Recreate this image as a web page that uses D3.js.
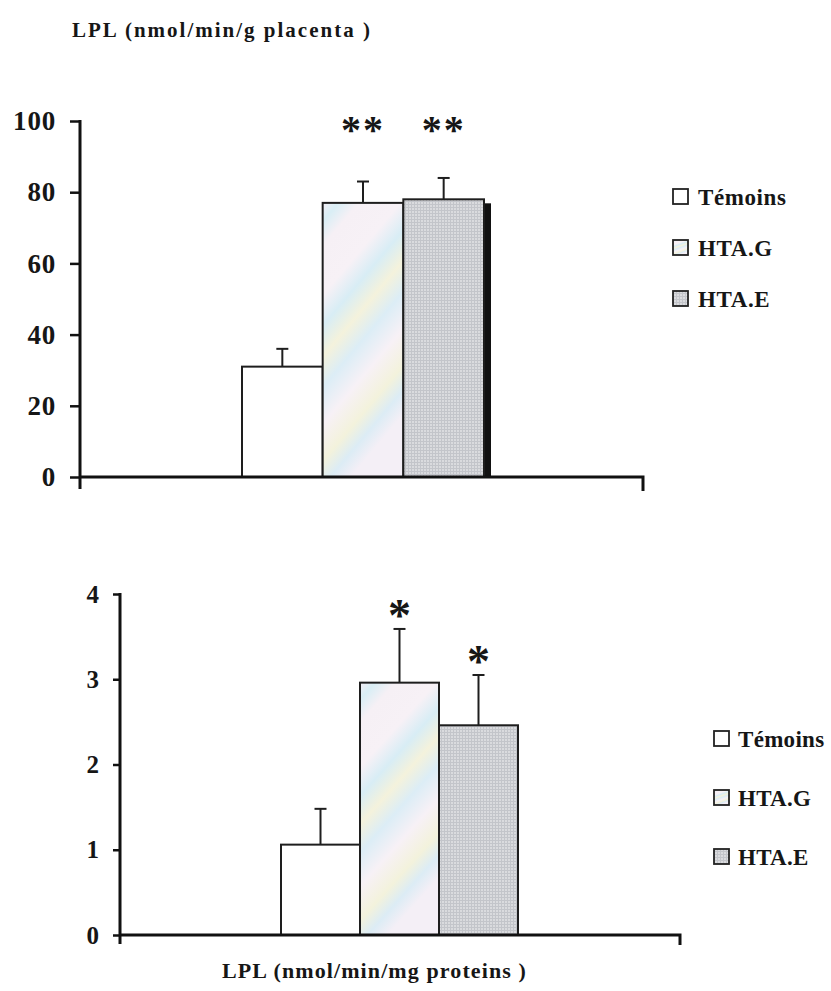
<!DOCTYPE html>
<html>
<head>
<meta charset="utf-8">
<script src="https://cdn.jsdelivr.net/npm/d3@7/dist/d3.min.js"></script>
<style>
  html, body { margin: 0; padding: 0; background: #fff; }
  svg { display: block; }
  text { font-family: "Liberation Serif", "Times New Roman", serif; font-weight: bold; fill: #161616; }
</style>
</head>
<body>
<svg id="chart" width="831" height="991"></svg>
<script>
// Groups and LPL activity (mean and SEM) per panel
const groups = ["Témoins", "HTA.G", "HTA.E"];
const perGram = [31, 77, 78];          // nmol/min/g placenta
const perGramErr = [5, 6, 6];
const perGramStars = ["", "**", "**"];
const perProtein = [1.06, 2.96, 2.46]; // nmol/min/mg proteins
const perProteinErr = [0.42, 0.63, 0.59];
const perProteinStars = ["", "*", "*"];
const topTicks = [0, 20, 40, 60, 80, 100];
const bottomTicks = [0, 1, 2, 3, 4];

const svg = d3.select("#chart");
const defs = svg.append("defs");

// Pale iridescent fill for HTA.G
const iri = defs.append("linearGradient").attr("id", "iri")
  .attr("x1", "0").attr("y1", "0").attr("x2", "0.35").attr("y2", "1");
[["0", "#f3eef5"], ["0.06", "#d9eef5"], ["0.14", "#f6f0f5"], ["0.3", "#f7f1f6"],
 ["0.4", "#d8edf5"], ["0.5", "#f4f2dc"], ["0.6", "#dcedf6"], ["0.72", "#f7f1f6"],
 ["0.84", "#f3f2dc"], ["0.92", "#dcecf5"], ["1", "#f4eff6"]].forEach(([o, c]) =>
  iri.append("stop").attr("offset", o).attr("stop-color", c));

// Fine grey grid fill for HTA.E
const grid = defs.append("pattern").attr("id", "grid")
  .attr("patternUnits", "userSpaceOnUse").attr("width", 3).attr("height", 3);
grid.append("rect").attr("width", 3).attr("height", 3).attr("fill", "#dadbde");
grid.append("path").attr("d", "M0,0.5H3M0.5,0V3").attr("stroke", "#c3c5ca").attr("stroke-width", 1);

const fills = ["#ffffff", "url(#iri)", "url(#grid)"];

function panel(cfg) {
  const g = svg.append("g");
  const y = d3.scaleLinear().domain([0, cfg.max]).range([cfg.y0, cfg.y1]);
  const x = d3.scaleBand().domain(groups).range(cfg.barRange).padding(0);

  // Bars
  if (cfg.shadow) {
    const last = groups[groups.length - 1];
    g.append("rect")
      .attr("x", x(last) + x.bandwidth())
      .attr("y", y(cfg.values[2]) + 4)
      .attr("width", 7)
      .attr("height", y(0) - y(cfg.values[2]) - 4)
      .attr("fill", "#111");
  }
  g.selectAll("rect.bar").data(groups).join("rect")
    .attr("class", "bar")
    .attr("x", d => x(d))
    .attr("y", (d, i) => y(cfg.values[i]))
    .attr("width", x.bandwidth())
    .attr("height", (d, i) => y(0) - y(cfg.values[i]))
    .attr("fill", (d, i) => fills[i])
    .attr("stroke", "#1e1e1e").attr("stroke-width", 2);

  // Error bars (upper only)
  const eb = g.selectAll("g.err").data(groups).join("g").attr("class", "err");
  eb.append("line")
    .attr("x1", d => x(d) + x.bandwidth() / 2).attr("x2", d => x(d) + x.bandwidth() / 2)
    .attr("y1", (d, i) => y(cfg.values[i]))
    .attr("y2", (d, i) => y(cfg.values[i] + cfg.errs[i]))
    .attr("stroke", "#1e1e1e").attr("stroke-width", 2);
  eb.append("line")
    .attr("x1", d => x(d) + x.bandwidth() / 2 - 6).attr("x2", d => x(d) + x.bandwidth() / 2 + 6)
    .attr("y1", (d, i) => y(cfg.values[i] + cfg.errs[i]))
    .attr("y2", (d, i) => y(cfg.values[i] + cfg.errs[i]))
    .attr("stroke", "#1e1e1e").attr("stroke-width", 2);

  // Significance marks
  g.selectAll("text.star").data(groups).join("text")
    .attr("class", "star")
    .attr("x", d => x(d) + x.bandwidth() / 2)
    .attr("y", (d, i) => cfg.starY != null ? cfg.starY : y(cfg.values[i] + cfg.errs[i]) - cfg.starGap)
    .attr("text-anchor", "middle")
    .attr("font-size", cfg.starSize)
    .attr("letter-spacing", cfg.starSpacing)
    .text((d, i) => cfg.stars[i]);

  // Y axis
  const ax = g.append("g").attr("transform", `translate(${cfg.axisX},0)`)
    .call(d3.axisLeft(y).tickValues(cfg.ticks).tickSize(cfg.tickLen).tickPadding(cfg.tickPad).tickFormat(d3.format("d")));
  ax.select(".domain").remove();
  ax.selectAll(".tick line").attr("stroke", "#111").attr("stroke-width", 2.5);
  ax.selectAll(".tick text")
    .attr("font-size", cfg.tickFont)
    .attr("letter-spacing", cfg.tickSpacing)
    .attr("fill", "#161616")
    .style("font-family", '"Liberation Serif", serif').style("font-weight", "bold");
  g.append("line")
    .attr("x1", cfg.axisX).attr("x2", cfg.axisX)
    .attr("y1", y(cfg.max) - 1).attr("y2", cfg.axisBottom)
    .attr("stroke", "#111").attr("stroke-width", 3);

  // X axis baseline with end tick
  g.append("path")
    .attr("d", `M${cfg.axisX},${y(0)}H${cfg.axisEnd}V${cfg.endTick}`)
    .attr("fill", "none").attr("stroke", "#111").attr("stroke-width", 3);

  // Legend
  const lg = g.selectAll("g.leg").data(groups).join("g").attr("class", "leg")
    .attr("transform", (d, i) => `translate(${cfg.legX},${cfg.legY + i * cfg.legStep})`);
  lg.append("rect").attr("x", 0).attr("y", -8).attr("width", 15).attr("height", 15)
    .attr("fill", (d, i) => fills[i]).attr("stroke", "#222").attr("stroke-width", 1.8);
  lg.append("text").attr("x", cfg.legTextDx).attr("y", 0)
    .attr("dominant-baseline", "central")
    .attr("font-size", cfg.legFont)
    .attr("letter-spacing", cfg.legSpacing)
    .text(d => d);
}

panel({
  values: perGram, errs: perGramErr, stars: perGramStars, ticks: topTicks, max: 100,
  y0: 477, y1: 121, barRange: [242, 484], shadow: true,
  axisX: 80, axisBottom: 489, axisEnd: 643, endTick: 491,
  tickLen: 10, tickPad: 14, tickFont: 27, tickSpacing: 0.8,
  starY: 143, starSize: 40, starSpacing: 2,
  legX: 673, legY: 197, legStep: 51, legTextDx: 25, legFont: 23, legSpacing: 0.6
});

panel({
  values: perProtein, errs: perProteinErr, stars: perProteinStars, ticks: bottomTicks, max: 4,
  y0: 935, y1: 594, barRange: [281, 518], shadow: false,
  axisX: 120, axisBottom: 944, axisEnd: 680, endTick: 945,
  tickLen: 7, tickPad: 14, tickFont: 25, tickSpacing: 0,
  starY: null, starGap: -2, starSize: 46, starSpacing: 0,
  legX: 714, legY: 739, legStep: 59, legTextDx: 24, legFont: 23, legSpacing: 0.3
});

// Panel captions
svg.append("text").attr("x", 72).attr("y", 37)
  .attr("font-size", 21).attr("letter-spacing", 2)
  .text("LPL (nmol/min/g placenta )");
svg.append("text").attr("x", 222).attr("y", 978)
  .attr("font-size", 22).attr("letter-spacing", 1.1)
  .text("LPL (nmol/min/mg proteins )");
</script>
</body>
</html>
